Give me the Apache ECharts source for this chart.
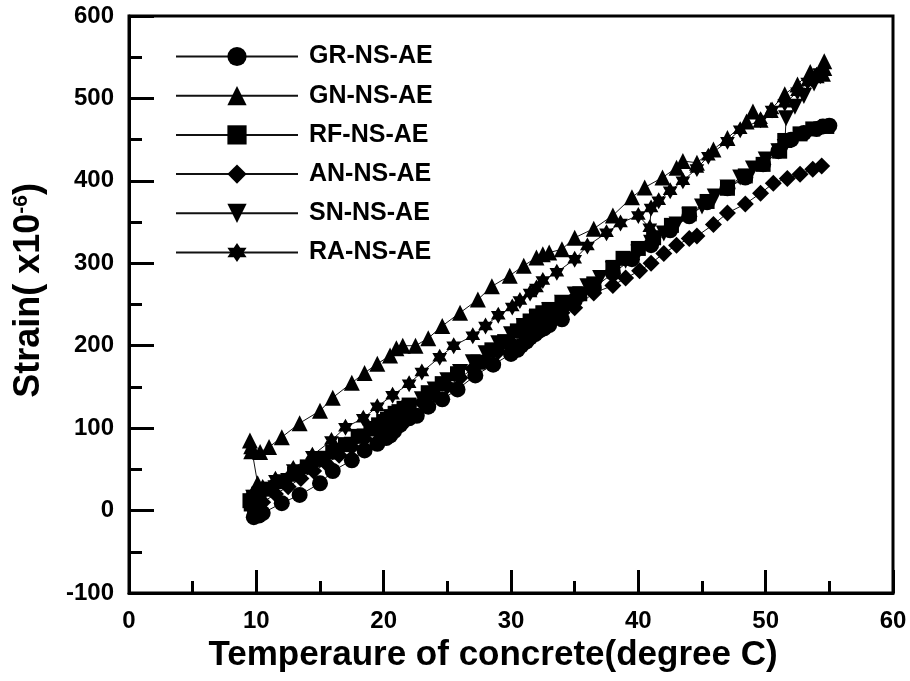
<!DOCTYPE html>
<html>
<head>
<meta charset="utf-8">
<script src="https://cdn.jsdelivr.net/npm/echarts@6/dist/echarts.min.js"></script>
<style>
  html, body { margin: 0; padding: 0; background: #fff; }
  #chart { width: 910px; height: 681px; }
</style>
</head>
<body>
<div id="chart"></div>
<script>
// temperature (degree C) and strain (x10^-6)
const tempGR = [9.8, 10.1, 9.9, 10.2, 10.5, 12, 13.4, 15, 16, 17.5, 18.5, 19.5, 20.2, 20.5, 20.8, 21, 21.3, 21.5, 22, 22.6, 23.5, 24.6, 25.8, 27.2, 28.6, 30, 30.5, 30.8, 31.2, 31.5, 31.9, 32.2, 32.6, 33, 34, 35, 36.5, 38, 39.5, 41, 42.5, 44, 45.4, 47, 48.4, 49.8, 51, 52, 53, 54, 54.5, 55];
const strainGR = [-8, -4, -2, -6, -3, 9, 19, 33, 48, 61, 73, 81, 88, 91, 96, 101, 104, 108, 112, 115, 126, 135, 147, 164, 177, 190, 195, 200, 205, 210, 214, 218, 221, 225, 232, 255, 270, 288, 305, 322, 340, 357, 374, 391, 404, 420, 436, 450, 458, 463, 466, 467];

const tempGN = [10.1, 9.6, 9.5, 9.6, 10.3, 11, 12, 13.4, 15, 16, 17.5, 18.5, 19.5, 20.5, 21, 21.5, 22.5, 23.5, 24.6, 26, 27.4, 28.5, 29.9, 31, 32, 32.5, 33, 34, 35, 36.5, 38, 39.5, 40.5, 41.9, 43, 43.5, 44.6, 45.9, 47, 48.5, 49, 49.6, 50.4, 51.5, 52.5, 53.5, 54, 54.5, 54.6, 54.6];
const strainGN = [33, 78, 85, 72, 71, 77, 89, 106, 121, 137, 155, 167, 178, 188, 197, 200, 200, 209, 224, 240, 256, 272, 285, 297, 307, 311, 313, 317, 331, 342, 358, 380, 392, 404, 416, 424, 422, 438, 452, 472, 484, 474, 486, 505, 517, 532, 528, 530, 545, 537];

const tempRF = [9.5, 9.6, 9.8, 10, 10.2, 11, 12, 13, 14, 15, 16, 17, 18, 19, 19.6, 20, 20.3, 20.6, 20.9, 21.2, 21.6, 22, 23.5, 24.6, 25.8, 27.4, 28.5, 29.5, 30.5, 31, 31.5, 32, 32.5, 33, 34, 35.4, 36.5, 38, 38.8, 40, 41.2, 42.6, 44, 45.4, 47, 48.4, 49.8, 51.1, 51.5, 52.7, 53.7, 54.8];
const strainRF = [12, 8, 16, 14, 20, 26, 35, 44, 53, 62, 71, 80, 90, 99, 104, 108, 111, 114, 118, 120, 124, 128, 143, 154, 166, 180, 195, 205, 218, 224, 230, 236, 240, 244, 251, 263, 275, 295, 306, 318, 331, 346, 360, 375, 391, 406, 420, 436, 449, 457, 463, 466];

const tempAN = [9.7, 9.9, 10, 10.5, 11.5, 12.5, 13.5, 14.5, 15.5, 16.5, 17.5, 18.5, 19.5, 20, 20.5, 21, 21.5, 22, 23, 24, 25, 26, 27, 28, 29, 30, 31, 32, 33, 34, 35, 36.5, 38, 39, 40.1, 41, 42, 43, 44, 44.6, 45.9, 47, 48.4, 49.6, 50.6, 51.7, 52.7, 53.7, 54.4];
const strainAN = [3, 0, 6, 10, 20, 29, 39, 48, 57, 67, 77, 87, 96, 101, 106, 111, 116, 121, 131, 141, 151, 161, 172, 182, 193, 204, 214, 224, 233, 240, 246, 264, 273, 282, 291, 300, 312, 322, 330, 333, 347, 361, 372, 385, 397, 403, 408, 414, 418];

const tempSN = [9.8, 10.5, 11.5, 12.5, 13.5, 14.5, 15.5, 16.5, 17.5, 18.5, 19.5, 20.2, 20.8, 21.3, 22, 23, 24, 25, 26, 27, 28, 29, 30, 31, 32, 33, 34, 35, 36, 37, 38, 39, 40, 41, 42, 43, 44, 45, 46, 47, 48, 49, 50, 51, 51.5, 51.6, 52.3, 53, 53.8, 54.3];
const strainSN = [12, 18, 27, 36, 45, 54, 63, 72, 80, 90, 99, 106, 112, 117, 124, 135, 147, 158, 168, 180, 191, 203, 214, 224, 233, 243, 252, 262, 272, 282, 293, 303, 313, 325, 336, 347, 358, 369, 381, 392, 404, 415, 426, 436, 441, 476, 490, 503, 518, 527];

const tempRA = [9.7, 10.5, 11.5, 12.9, 14.4, 15.9, 17, 18.4, 19.5, 20.7, 22, 23, 24.4, 25.5, 27, 28, 29, 30.1, 30.7, 31.5, 32, 32.5, 33.6, 35, 36, 37.5, 38.6, 40, 40.9, 41, 41.6, 42.5, 43.5, 44.6, 45.5, 47, 48, 49.6, 50.5, 51.5, 52.5, 53.3, 54];
const strainRA = [20, 28, 38, 51, 67, 85, 101, 112, 126, 140, 154, 168, 186, 200, 212, 224, 237, 247, 255, 264, 270, 279, 289, 305, 321, 337, 349, 358, 343, 367, 376, 388, 400, 415, 430, 448, 462, 474, 486, 494, 508, 520, 528];

const seriesNames = ['GR-NS-AE', 'GN-NS-AE', 'RF-NS-AE', 'AN-NS-AE', 'SN-NS-AE', 'RA-NS-AE'];
const xTicks = [0, 10, 20, 30, 40, 50, 60];
const yTicks = [-100, 0, 100, 200, 300, 400, 500, 600];

const star = 'path://M0,-10L8.66,5L-8.66,5Z M0,10L-8.66,-5L8.66,-5Z';

function pairs(xs, ys) {
  return xs.map((x, i) => [x, ys[i]]);
}

function makeSeries(name, xs, ys, symbol, rotate, size) {
  return {
    name: name,
    type: 'line',
    data: pairs(xs, ys),
    symbol: symbol,
    symbolRotate: rotate,
    symbolSize: size,
    symbolKeepAspect: true,
    showAllSymbol: true,
    lineStyle: { color: '#111', width: 1 },
    itemStyle: { color: '#000' },
    emphasis: { disabled: true }
  };
}

const chart = echarts.init(document.getElementById('chart'));

const option = {
  animation: false,
  backgroundColor: '#fff',
  textStyle: { fontFamily: 'Liberation Sans, Arial, sans-serif' },
  grid: {
    left: 129,
    right: 17,
    top: 16,
    bottom: 88,
    show: true,
    borderColor: '#000',
    borderWidth: 3
  },
  legend: {
    left: 170,
    top: 39,
    orient: 'vertical',
    itemWidth: 122,
    itemHeight: 24,
    itemGap: 14.2,
    data: seriesNames,
    textStyle: {
      fontSize: 25,
      fontWeight: 'bold',
      color: '#000',
      padding: [0, 0, 0, 6]
    }
  },
  xAxis: {
    type: 'value',
    min: xTicks[0],
    max: xTicks[xTicks.length - 1],
    interval: 10,
    name: 'Temperaure of concrete(degree C)',
    nameLocation: 'middle',
    nameGap: 44,
    nameTextStyle: { fontSize: 35, fontWeight: 'bold', color: '#000', padding: [0, 36, 0, 0] },
    axisLine: { onZero: false, lineStyle: { color: '#000', width: 3 } },
    axisTick: { inside: true, length: 23, lineStyle: { color: '#000', width: 3 } },
    minorTick: { show: true, splitNumber: 2, length: 12, lineStyle: { color: '#000', width: 3 } },
    axisLabel: { fontSize: 24, fontWeight: 'bold', color: '#000', margin: 16 },
    splitLine: { show: false }
  },
  yAxis: {
    type: 'value',
    min: yTicks[0],
    max: yTicks[yTicks.length - 1],
    interval: 100,
    name: 'Strain( x10{sup|-6})',
    nameLocation: 'middle',
    nameGap: 82,
    nameTextStyle: {
      fontSize: 36,
      fontWeight: 'bold',
      color: '#000',
      padding: [0, 0, 0, 28],
      rich: {
        sup: { fontSize: 21, fontWeight: 'bold', color: '#000', verticalAlign: 'top', padding: [0, 0, 14, 0] }
      }
    },
    axisLine: { onZero: false, lineStyle: { color: '#000', width: 3 } },
    axisTick: { inside: true, length: 25, lineStyle: { color: '#000', width: 3 } },
    minorTick: { show: true, splitNumber: 2, length: 13, lineStyle: { color: '#000', width: 3 } },
    axisLabel: { fontSize: 24, fontWeight: 'bold', color: '#000', margin: 15 },
    splitLine: { show: false }
  },
  series: [
    makeSeries(seriesNames[0], tempGR, strainGR, 'circle', 0, 16),
    makeSeries(seriesNames[1], tempGN, strainGN, 'triangle', 0, 16),
    makeSeries(seriesNames[2], tempRF, strainRF, 'rect', 0, 15),
    makeSeries(seriesNames[3], tempAN, strainAN, 'diamond', 0, 17),
    makeSeries(seriesNames[4], tempSN, strainSN, 'triangle', 180, 16),
    makeSeries(seriesNames[5], tempRA, strainRA, star, 0, 17)
  ]
};

chart.setOption(option);
</script>
</body>
</html>
